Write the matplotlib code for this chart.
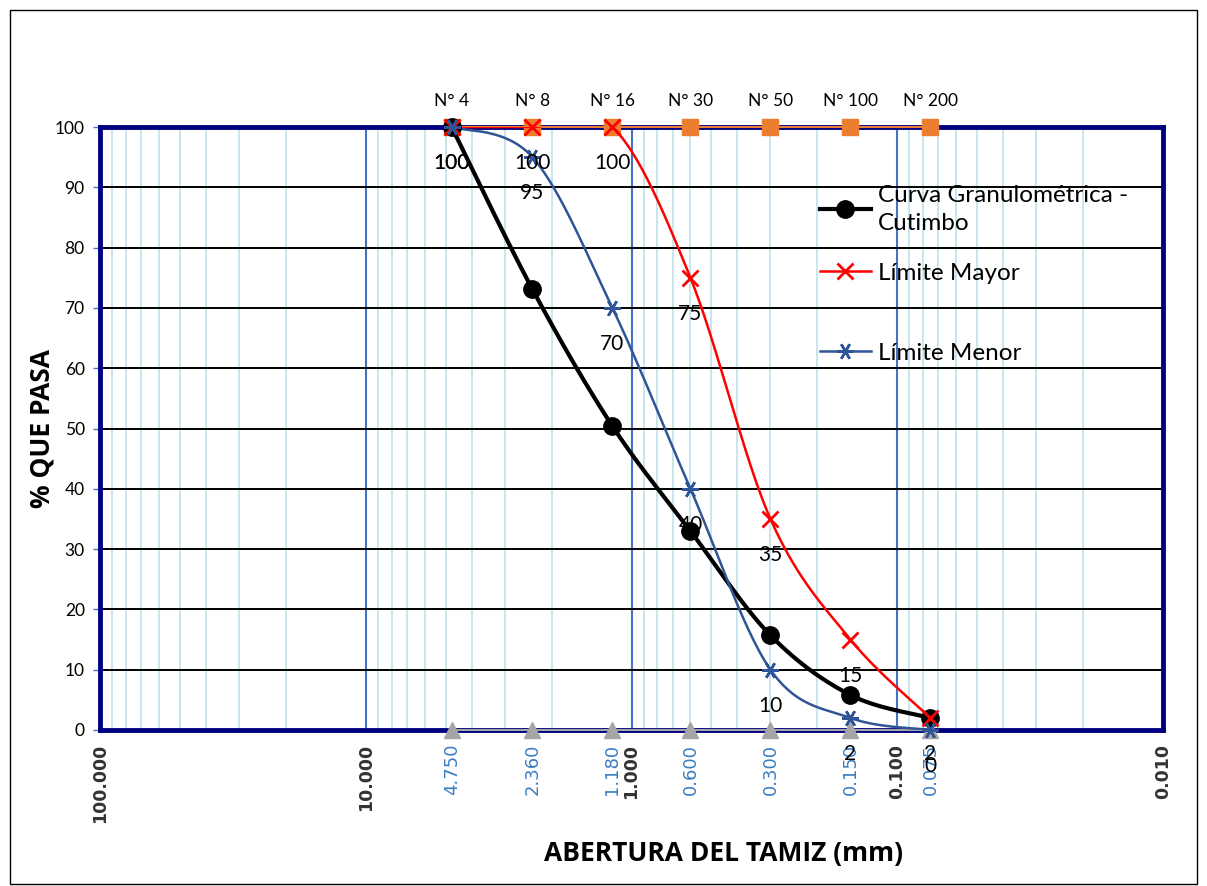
import numpy as np
import matplotlib
matplotlib.use("Agg")
import matplotlib.pyplot as plt
from matplotlib.lines import Line2D
from matplotlib.legend import Legend
from matplotlib.patches import Rectangle

# ---------------- data ----------------
sieve_names = ["N° 4", "N° 8", "N° 16", "N° 30", "N° 50", "N° 100", "N° 200"]
sieve_mm = [4.75, 2.36, 1.18, 0.60, 0.30, 0.15, 0.075]
sieve_tick_labels = ["4.750", "2.360", "1.180", "0.600", "0.300", "0.150", "0.075"]
curva = [100, 73.1, 50.4, 33.0, 15.7, 5.8, 2.0]
limite_mayor = [100, 100, 100, 75, 35, 15, 2]
limite_menor = [100, 95, 70, 40, 10, 2, 0]
top_ref = [100, 100, 100, 100, 100, 100, 100]
bottom_ref = [0, 0, 0, 0, 0, 0, 0]
decades = [100, 10, 1, 0.1, 0.01]
decade_labels = ["100.000", "10.000", "1.000", "0.100", "0.010"]

plt.rcParams['font.family'] = ['Lato', 'DejaVu Sans']


def smooth(xs, ys, n=30):
    """Excel-like smoothed line (Catmull-Rom in log-x / linear-y space)."""
    lx = np.log10(np.asarray(xs, float))
    y = np.asarray(ys, float)
    P = np.column_stack([lx, y])
    P = np.vstack([P[0], P, P[-1]])
    out = []
    t = np.linspace(0, 1, n)[:, None]
    for i in range(1, len(P) - 2):
        p0, p1, p2, p3 = P[i - 1], P[i], P[i + 1], P[i + 2]
        seg = 0.5 * ((2 * p1) + (-p0 + p2) * t + (2 * p0 - 5 * p1 + 4 * p2 - p3) * t ** 2
                     + (-p0 + 3 * p1 - 3 * p2 + p3) * t ** 3)
        out.append(seg if i == 1 else seg[1:])
    S = np.vstack(out)
    return 10 ** S[:, 0], S[:, 1]


fig = plt.figure(figsize=(12.07, 8.86), dpi=100)
ax = fig.add_axes([100 / 1207, 1 - 730 / 886, 1063 / 1207, 603 / 886])

ax.set_xscale('log')
ax.set_xlim(100, 0.01)
ax.set_ylim(0, 100)

# grid
ax.set_yticks(np.arange(0, 101, 10))
ax.yaxis.grid(True, color='black', lw=1.4, zorder=1)
ax.xaxis.grid(False)
minor_pos = [m * d for d in [10, 1, 0.1, 0.01] for m in range(2, 10)]
for xv in minor_pos:
    ax.axvline(xv, color='#c5e3ec', lw=1.3, zorder=0.5)
for xv in decades[1:-1]:
    ax.axvline(xv, color='#4472c4', lw=1.5, zorder=0.6)

# series
ax.plot(sieve_mm, top_ref, color='#ed7d31', lw=1.5, marker='s', ms=11, zorder=4, clip_on=False)
ax.plot(sieve_mm, bottom_ref, color='#a5a5a5', lw=1.5, marker='^', ms=11, zorder=4, clip_on=False)

bx, by = smooth(sieve_mm, curva)
ax.plot(bx, by, color='black', lw=3, zorder=5)
ax.plot(sieve_mm, curva, ls='none', marker='o', ms=12.5, color='black', zorder=6, clip_on=False)

rx, ry = smooth(sieve_mm, limite_mayor)
ax.plot(rx, ry, color='#ff0000', lw=1.8, zorder=5)
ax.plot(sieve_mm, limite_mayor, ls='none', marker='x', ms=11, mew=2, color='#ff0000', zorder=7, clip_on=False)

lx_, ly_ = smooth(sieve_mm, limite_menor)
ax.plot(lx_, ly_, color='#2f5597', lw=1.8, zorder=5)
ax.plot(sieve_mm, limite_menor, ls='none', marker=(6, 2, 90), ms=12, mew=1.8, color='#2f5597', zorder=7, clip_on=False)

# data labels (below points)
for series in (limite_mayor, limite_menor):
    for xv, yv in zip(sieve_mm, series):
        ax.annotate(f"{yv:g}", (xv, yv), xytext=(0, -26), textcoords='offset points',
                    ha='center', va='center', fontsize=15, color='black', zorder=8,
                    annotation_clip=False)

# spines
for s in ax.spines.values():
    s.set_color('#000080')
    s.set_linewidth(3.5)
    s.set_zorder(3)

# ticks
ax.tick_params(axis='y', labelsize=12.5, colors='#4472c4', length=5, width=1, labelcolor='black', pad=6)
ax.set_xticks(decades + sieve_mm)
ax.set_xticks([], minor=True)
ax.set_xticklabels(decade_labels + sieve_tick_labels, rotation=90, family='DejaVu Sans')
ax.tick_params(axis='x', length=0, pad=10)
for i, lab in enumerate(ax.get_xticklabels()):
    if i < len(decades):
        lab.set_fontweight('bold')
        lab.set_color('#333333')
        lab.set_fontsize(12.5)
    else:
        lab.set_color('#3b7dc4')
        lab.set_fontsize(13)

# top sieve names
top = ax.twiny()
top.set_xscale('log')
top.set_xlim(ax.get_xlim())
top.set_xticks(sieve_mm)
top.set_xticks([], minor=True)
top.set_xticklabels(sieve_names, fontsize=12.5)
top.tick_params(axis='x', length=0, pad=13)
for s in top.spines.values():
    s.set_visible(False)

ax.set_ylabel("% QUE PASA", fontsize=19, fontweight='bold', family=['Open Sans', 'DejaVu Sans'])
ax.yaxis.set_label_coords(-0.042, 0.5)
ax.set_xlabel("ABERTURA DEL TAMIZ (mm)", fontsize=19, fontweight='bold', family=['Open Sans', 'DejaVu Sans'])
ax.xaxis.set_label_coords(0.587, -0.183)

# legend (three separate entries)
entries = [
    (Line2D([], [], color='black', lw=3, marker='o', ms=12.5), "Curva Granulométrica -\nCutimbo", 0.904),
    (Line2D([], [], color='#ff0000', lw=1.8, marker='x', ms=11, mew=2), "Límite Mayor", 0.775),
    (Line2D([], [], color='#2f5597', lw=1.8, marker=(6, 2, 90), ms=12, mew=1.8), "Límite Menor", 0.642),
]
for h, t, yy in entries:
    lg = Legend(ax, [h], [t], loc='upper left', bbox_to_anchor=(0.677, yy), frameon=False,
                fontsize=17.5, handlelength=2.1, handletextpad=0.3, borderpad=0,
                borderaxespad=0, labelspacing=0.2)
    for txt in lg.get_texts():
        txt.set_linespacing(1.4)
    lg.set_zorder(9)
    ax.add_artist(lg)

# outer border
fig.patches.append(Rectangle((10 / 1207, 2 / 886), 1187 / 1207, 874 / 886, transform=fig.transFigure,
                             fill=False, edgecolor='black', lw=1))

fig.savefig("out.png", dpi=100)
